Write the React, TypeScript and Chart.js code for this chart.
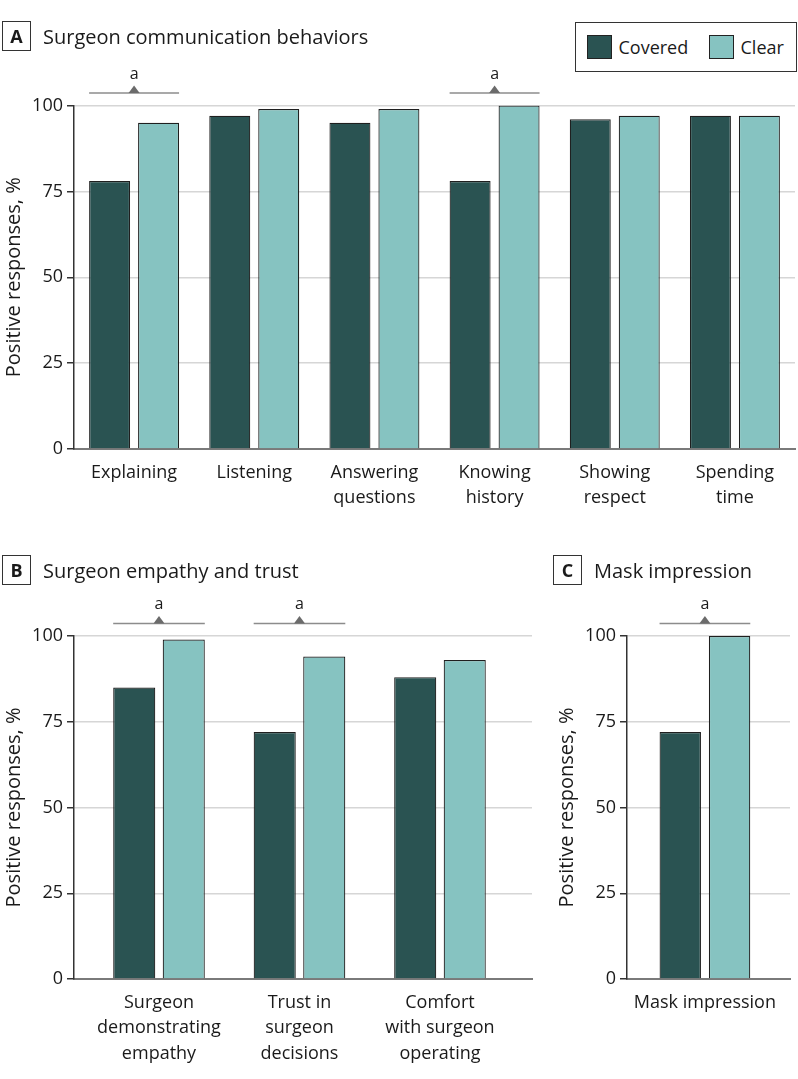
import React, { useEffect, useRef } from 'react';
import { Chart, registerables } from 'chart.js';

Chart.register(...registerables);

const FONT = "'Open Sans', 'Noto Sans', sans-serif";
const TEXT = '#1a1a1a';
const COVERED_COLOR = '#2a5352';
const CLEAR_COLOR = '#86c3c1';

const seriesNames = ['Covered', 'Clear'];
const yTicks = [0, 25, 50, 75, 100];
const yTitle = 'Positive responses, %';

const categoriesA = [['Explaining'], ['Listening'], ['Answering', 'questions'], ['Knowing', 'history'], ['Showing', 'respect'], ['Spending', 'time']];
const coveredA = [78, 97, 95, 78, 96, 97];
const clearA = [95, 99, 99, 100, 97, 97];
const significantA = [true, false, false, true, false, false];

const categoriesB = [['Surgeon', 'demonstrating', 'empathy'], ['Trust in', 'surgeon', 'decisions'], ['Comfort', 'with surgeon', 'operating']];
const coveredB = [85, 72, 88];
const clearB = [99, 94, 93];
const significantB = [true, true, false];

const categoriesC = [['Mask impression']];
const coveredC = [72];
const clearC = [100];
const significantC = [true];

function sigPlugin(flags: boolean[]) {
  return {
    id: 'sig',
    afterDatasetsDraw(chart: any) {
      const { ctx, chartArea } = chart;
      const m0 = chart.getDatasetMeta(0);
      const m1 = chart.getDatasetMeta(1);
      flags.forEach((f, i) => {
        if (!f) return;
        const b0 = m0.data[i];
        const b1 = m1.data[i];
        const x0 = b0.x - b0.width / 2;
        const x1 = b1.x + b1.width / 2;
        const cx = (x0 + x1) / 2;
        const ly = chartArea.top - 12.5;
        ctx.save();
        ctx.strokeStyle = '#8c8c8c';
        ctx.lineWidth = 1.5;
        ctx.beginPath();
        ctx.moveTo(x0, ly);
        ctx.lineTo(x1, ly);
        ctx.stroke();
        ctx.fillStyle = '#6b6b6b';
        ctx.beginPath();
        ctx.moveTo(cx - 5.5, ly);
        ctx.lineTo(cx + 5.5, ly);
        ctx.lineTo(cx, ly - 7.5);
        ctx.closePath();
        ctx.fill();
        ctx.fillStyle = TEXT;
        ctx.font = `16px ${FONT}`;
        ctx.textAlign = 'center';
        ctx.textBaseline = 'middle';
        ctx.fillText('a', cx, chartArea.top - 31.5);
        ctx.restore();
      });
    },
  };
}

type PanelOpts = {
  categories: string[][];
  covered: number[];
  clear: number[];
  significant: boolean[];
  linear: boolean;
  xMin?: number;
  xMax?: number;
  cp: number;
  bp: number;
  yAxisWidth: number;
  xAxisHeight: number;
  padTop: number;
  padRight: number;
  titlePad: number;
};

function buildConfig(o: PanelOpts): any {
  const dsStyle = (i: number) => ({
    label: seriesNames[i],
    backgroundColor: i === 0 ? COVERED_COLOR : CLEAR_COLOR,
    borderColor: '#1f1f1f',
    borderWidth: 1.2,
    categoryPercentage: o.cp,
    barPercentage: o.bp,
  });
  const data = o.linear
    ? {
        datasets: [
          { ...dsStyle(0), data: o.covered.map((v, i) => ({ x: i + 1, y: v })) },
          { ...dsStyle(1), data: o.clear.map((v, i) => ({ x: i + 1, y: v })) },
        ],
      }
    : {
        labels: o.categories,
        datasets: [
          { ...dsStyle(0), data: o.covered },
          { ...dsStyle(1), data: o.clear },
        ],
      };

  const xScale: any = {
    afterFit: (s: any) => {
      s.height = o.xAxisHeight;
    },
    grid: { display: false },
    border: { display: true, color: '#7a7a7a', width: 2 },
    ticks: {
      font: { family: FONT, size: 18, lineHeight: 1.42 },
      color: TEXT,
      padding: 3,
      autoSkip: false,
      maxRotation: 0,
      minRotation: 0,
    },
  };
  if (o.linear) {
    xScale.type = 'linear';
    xScale.min = o.xMin;
    xScale.max = o.xMax;
    xScale.offset = false;
    xScale.bounds = 'data';
    xScale.grace = 0;
    xScale.afterBuildTicks = (s: any) => {
      s.ticks = o.categories.map((_, i) => ({ value: i + 1 }));
    };
    xScale.ticks.callback = (v: number) => o.categories[Math.round(v) - 1] || '';
  } else {
    xScale.type = 'category';
  }

  return {
    type: 'bar',
    data,
    plugins: [sigPlugin(o.significant)],
    options: {
      animation: false,
      responsive: true,
      maintainAspectRatio: false,
      layout: { padding: { top: o.padTop, right: o.padRight, left: 0, bottom: 0 } },
      plugins: { legend: { display: false }, tooltip: { enabled: false } },
      scales: {
        x: xScale,
        y: {
          min: 0,
          max: 100,
          afterBuildTicks: (s: any) => {
            s.ticks = yTicks.map((v) => ({ value: v }));
          },
          afterFit: (s: any) => {
            s.width = o.yAxisWidth;
          },
          grid: { color: '#d6d6d6', lineWidth: 1.5, tickColor: '#333', tickLength: 7, drawTicks: true },
          border: { color: '#333', width: 1.5 },
          ticks: { font: { family: FONT, size: 18 }, color: TEXT, padding: 4 },
          title: {
            display: true,
            text: yTitle,
            font: { family: FONT, size: 20 },
            color: TEXT,
            padding: { top: o.titlePad, bottom: 0 },
          },
        },
      },
    },
  };
}

function Panel({ opts, box }: { opts: PanelOpts; box: { left: number; top: number; width: number; height: number } }) {
  const ref = useRef<HTMLCanvasElement>(null);
  useEffect(() => {
    const chart = new Chart(ref.current as HTMLCanvasElement, buildConfig(opts));
    return () => chart.destroy();
  }, []);
  return (
    <div style={{ position: 'absolute', ...box }}>
      <canvas ref={ref} />
    </div>
  );
}

function PanelTitle({ letter, text, left, top }: { letter: string; text: string; left: number; top: number }) {
  return (
    <>
      <div
        style={{
          position: 'absolute',
          left,
          top,
          width: 29,
          height: 30,
          boxSizing: 'border-box',
          border: '1.5px solid #333',
          font: `bold 18px ${FONT}`,
          color: TEXT,
          display: 'flex',
          alignItems: 'center',
          justifyContent: 'center',
        }}
      >
        {letter}
      </div>
      <div
        style={{
          position: 'absolute',
          left: left + 41,
          top: top + 5.5,
          font: `20px ${FONT}`,
          lineHeight: '20px',
          color: TEXT,
          whiteSpace: 'nowrap',
        }}
      >
        {text}
      </div>
    </>
  );
}

function Legend() {
  const item = (name: string, color: string, sx: number, tx: number) => (
    <React.Fragment key={name}>
      <div
        style={{
          position: 'absolute',
          left: sx,
          top: 11.5,
          width: 25,
          height: 24,
          boxSizing: 'border-box',
          background: color,
          border: '1px solid #222',
        }}
      />
      <div
        style={{
          position: 'absolute',
          left: tx,
          top: 15,
          font: `18px ${FONT}`,
          lineHeight: '18px',
          color: TEXT,
          whiteSpace: 'nowrap',
        }}
      >
        {name}
      </div>
    </React.Fragment>
  );
  return (
    <div
      style={{
        position: 'absolute',
        left: 575,
        top: 22,
        width: 222,
        height: 50,
        boxSizing: 'border-box',
        border: '1.5px solid #333',
        background: '#fff',
      }}
    >
      {item(seriesNames[0], COVERED_COLOR, 10.5, 42.5)}
      {item(seriesNames[1], CLEAR_COLOR, 132.5, 164.5)}
    </div>
  );
}

export default function App() {
  return (
    <div style={{ position: 'absolute', left: 0, top: 0, width: 798, height: 1079, background: '#fff', overflow: 'hidden' }}>
      <Panel
        box={{ left: 0, top: 0, width: 798, height: 530 }}
        opts={{
          categories: categoriesA,
          covered: coveredA,
          clear: clearA,
          significant: significantA,
          linear: false,
          cp: 0.815,
          bp: 0.837,
          yAxisWidth: 74,
          xAxisHeight: 81,
          padTop: 105.5,
          padRight: 3,
          titlePad: 2,
        }}
      />
      <Panel
        box={{ left: 0, top: 560, width: 540, height: 519 }}
        opts={{
          categories: categoriesB,
          covered: coveredB,
          clear: clearB,
          significant: significantB,
          linear: true,
          xMin: 0.395,
          xMax: 3.655,
          cp: 0.705,
          bp: 0.85,
          yAxisWidth: 74,
          xAxisHeight: 100,
          padTop: 76,
          padRight: 8,
          titlePad: 2,
        }}
      />
      <Panel
        box={{ left: 550, top: 560, width: 248, height: 519 }}
        opts={{
          categories: categoriesC,
          covered: coveredC,
          clear: clearC,
          significant: significantC,
          linear: true,
          xMin: 0.522,
          xMax: 1.522,
          cp: 0.605,
          bp: 0.84,
          yAxisWidth: 77,
          xAxisHeight: 100,
          padTop: 76,
          padRight: 8,
          titlePad: 5,
        }}
      />
      <PanelTitle letter="A" text="Surgeon communication behaviors" left={2} top={21} />
      <PanelTitle letter="B" text="Surgeon empathy and trust" left={2} top={555} />
      <PanelTitle letter="C" text="Mask impression" left={553} top={555} />
      <Legend />
    </div>
  );
}
